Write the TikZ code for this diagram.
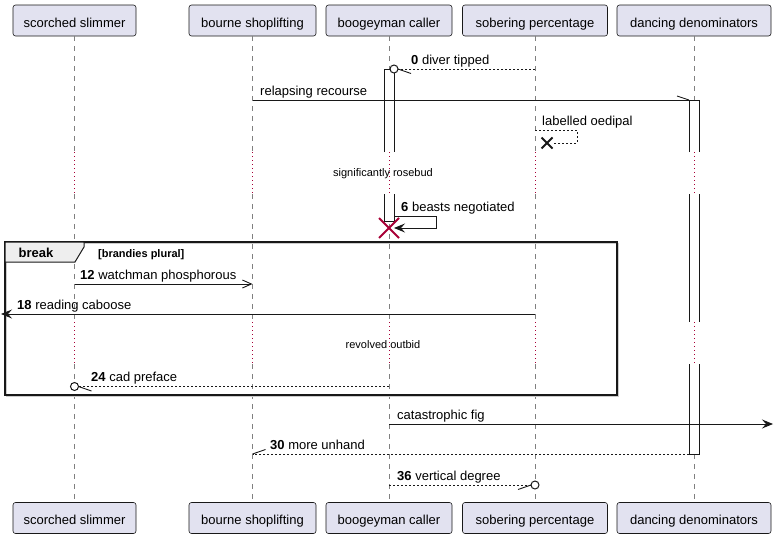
\documentclass[tikz,border=0pt]{standalone}
\usepackage{fontspec}
\setmainfont{Liberation Sans}
\usetikzlibrary{arrows.meta}
\definecolor{partfill}{HTML}{E2E2F0}
\definecolor{lineclr}{HTML}{181818}
\definecolor{lifeclr}{HTML}{808080}
\definecolor{delayclr}{HTML}{A80036}
\definecolor{hdrfill}{HTML}{EEEEEE}
\tikzset{
  part/.style={draw=lineclr, fill=partfill, rounded corners=2.5pt, minimum height=31pt, inner sep=0pt, text height=13.6pt, text depth=0pt, font=\fontsize{13}{15}\selectfont, line width=0.6pt},
  life/.style={draw=lifeclr, dash pattern=on 5pt off 5pt, line width=0.6pt},
  delayline/.style={draw=delayclr, dash pattern=on 1pt off 3pt, line width=0.8pt},
  msg/.style={draw=lineclr, line width=0.9pt},
  rmsg/.style={msg, dash pattern=on 2pt off 2pt},
  lbl/.style={anchor=base west, inner sep=0pt, font=\fontsize{13}{15}\selectfont},
  dlbl/.style={anchor=base, inner sep=0pt, font=\fontsize{11}{13}\selectfont},
  actbar/.style={draw=lineclr, fill=white, line width=0.9pt},
  fullhead/.style={-{Stealth[length=11pt,width=9pt,inset=4pt]}},
  openhead/.style={-{Straight Barb[length=9pt,width=8pt]}},
  circhead/.style={draw=lineclr, line width=1pt, fill=white},
  xmark/.style={line width=2pt},
}
\begin{document}
\begin{tikzpicture}[x=1pt,y=-1pt]
\useasboundingbox (0,0) rectangle (776,538);
% participants
\node[part, minimum width=123pt] (t1) at (74.5,20.5) {scorched slimmer};
\node[part, minimum width=127pt] (t2) at (252.5,20.5) {bourne shoplifting};
\node[part, minimum width=126pt] (t3) at (389,20.5) {boogeyman caller};
\node[part, minimum width=145pt] (t4) at (535,20.5) {sobering percentage};
\node[part, minimum width=154pt] (t5) at (694,20.5) {dancing denominators};
\node[part, minimum width=123pt] (b1) at (74.5,518) {scorched slimmer};
\node[part, minimum width=127pt] (b2) at (252.5,518) {bourne shoplifting};
\node[part, minimum width=126pt] (b3) at (389,518) {boogeyman caller};
\node[part, minimum width=145pt] (b4) at (535,518) {sobering percentage};
\node[part, minimum width=154pt] (b5) at (694,518) {dancing denominators};
% delay limits
\coordinate (dA) at (0,152);
\coordinate (dB) at (0,194);
\coordinate (dC) at (0,322);
\coordinate (dD) at (0,364);
\foreach \i in {1,...,5}{
  \draw[life] (t\i.south) -- (t\i.south |- dA);
  \draw[life] (t\i.south |- dB) -- (t\i.south |- dC);
  \draw[life] (t\i.south |- dD) -- (b\i.north);
  \draw[delayline] (t\i.south |- dA) -- (t\i.south |- dB);
  \draw[delayline] (t\i.south |- dC) -- (t\i.south |- dD);
}
% activation bars
\path[fill=white] (384,69) rectangle (394,152);
\path[fill=white] (384,194) rectangle (394,221);
\draw[actbar, fill=none] (384,152) -- (384,69) -- (394,69) -- (394,152);
\draw[actbar, fill=none] (384,194) -- (384,221) -- (394,221) -- (394,194);
\path[fill=white] (689,100) rectangle (699,152);
\path[fill=white] (689,194) rectangle (699,322);
\path[fill=white] (689,364) rectangle (699,454);
\draw[actbar, fill=none] (689,152) -- (689,100) -- (699,100) -- (699,152);
\draw[actbar, fill=none] (689,194) -- (689,322) (699,194) -- (699,322);
\draw[actbar, fill=none] (689,364) -- (689,454) -- (699,454) -- (699,364);
\draw[delayline] (t3.south |- dA) -- (t3.south |- dB);
\draw[delayline] (t5.south |- dA) -- (t5.south |- dB);
\draw[delayline] (t5.south |- dC) -- (t5.south |- dD);
% message 0
\coordinate (c0) at (394,69);
\draw[rmsg] (t4.south |- c0) -- ([xshift=4pt]c0);
\draw[msg] ([xshift=4pt]c0) -- ++(13,4.5);
\draw[circhead] (c0) circle (4pt);
\node[lbl] (l0) at (411,64) {\textbf{0} diver tipped};
% relapsing recourse
\coordinate (c1) at (689,100);
\draw[msg] (t2.south |- c1) -- (c1);
\draw[msg] (c1) -- ++(-12,-4);
\node[lbl] (l1) at (260,95) {relapsing recourse};
% labelled oedipal
\coordinate (c2) at (535,130);
\coordinate (x2) at (547,143);
\draw[rmsg] (c2) -- ++(42,0) |- ([xshift=5.5pt]x2);
\draw[xmark, lineclr] ([shift={(-5.5,-5.5)}]x2) -- ([shift={(5.5,5.5)}]x2) ([shift={(-5.5,5.5)}]x2) -- ([shift={(5.5,-5.5)}]x2);
\node[lbl] (l2) at (542,125) {labelled oedipal};
% delay 1
\node[dlbl] (d1) at (383,176) {significantly rosebud};
% beasts negotiated
\coordinate (c6a) at (394,216);
\coordinate (c6b) at (394,228);
\draw[msg, fullhead] (c6a) -- ++(42,0) |- (c6b);
\node[lbl] (l6) at (401,211) {\textbf{6} beasts negotiated};
\coordinate (xr) at (389,228);
\draw[xmark, delayclr] ([shift={(-10,-10)}]xr) -- ([shift={(10,10)}]xr) ([shift={(-10,10)}]xr) -- ([shift={(10,-10)}]xr);
% break frame
\draw[line width=1pt, black!20] (6.5,243.5) rectangle (618.5,396.5);
\draw[line width=1.5pt, lineclr] (5,242) rectangle (617,395);
\filldraw[fill=hdrfill, draw=lineclr, line width=1pt] (5,242) -- (84,242) -- (84,247) -- (75,262) -- (5,262) -- cycle;
\node[anchor=base, inner sep=0pt, font=\fontsize{13}{15}\selectfont\bfseries] (fb) at (36,257) {break};
\node[anchor=base west, inner sep=0pt, font=\fontsize{11}{13}\selectfont\bfseries] (fg) at (98,257) {[brandies plural]};
% 12
\coordinate (c12) at (0,284);
\draw[msg, openhead] (t1.south |- c12) -- (t2.south |- c12);
\node[lbl] (l12) at (80,279) {\textbf{12} watchman phosphorous};
% 18
\coordinate (c18) at (1,314);
\draw[msg, fullhead] (t4.south |- c18) -- (c18);
\node[lbl] (l18) at (17,309) {\textbf{18} reading caboose};
% delay 2
\node[dlbl] (d2) at (383,348) {revolved outbid};
% 24
\coordinate (c24) at (74.5,386.5);
\draw[rmsg] (t3.south |- c24) -- ([xshift=4pt]c24);
\draw[msg] ([xshift=4pt]c24) -- ++(13,4.5);
\draw[circhead] (c24) circle (4pt);
\node[lbl] (l24) at (91,381) {\textbf{24} cad preface};
% catastrophic fig
\coordinate (ccf) at (773,424);
\draw[msg, fullhead] (t3.south |- ccf) -- (ccf);
\node[lbl] (lcf) at (397,419) {catastrophic fig};
% 30
\coordinate (c30) at (689,454);
\draw[rmsg] (c30) -- (t2.south |- c30);
\draw[msg] (t2.south |- c30) -- ++(13,-4.5);
\node[lbl] (l30) at (270,449) {\textbf{30} more unhand};
% 36
\coordinate (c36) at (535,485);
\draw[rmsg] (t3.south |- c36) -- ([xshift=-4pt]c36);
\draw[msg] ([xshift=-4pt]c36) -- ++(-13,4.5);
\draw[circhead] (c36) circle (4pt);
\node[lbl] (l36) at (397,480) {\textbf{36} vertical degree};
\end{tikzpicture}
\end{document}
